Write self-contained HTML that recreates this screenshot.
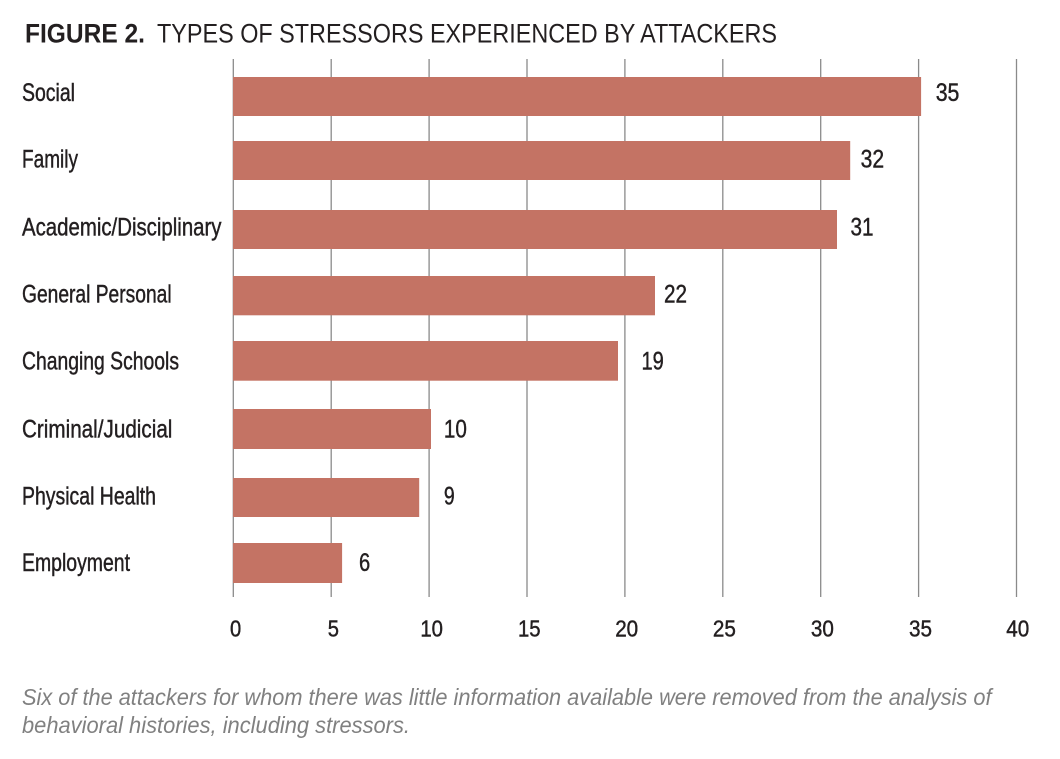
<!DOCTYPE html>
<html>
<head>
<meta charset="utf-8">
<style>
  html, body { margin:0; padding:0; background:#ffffff; }
  svg { display:block; }
  text { font-family: "Liberation Sans Narrow", "Liberation Sans", sans-serif; fill:#231f20; }
  .lbl { stroke:#231f20; stroke-width:0.45; }
</style>
</head>
<body>
<svg width="1060" height="759" viewBox="0 0 1060 759" xmlns="http://www.w3.org/2000/svg">
  <rect x="0" y="0" width="1060" height="759" fill="#ffffff"/>

  <!-- Title -->
  <text x="25" y="42.7" font-size="26.5" font-weight="bold" textLength="120" lengthAdjust="spacingAndGlyphs">FIGURE 2.</text>
  <text x="157" y="42.7" font-size="26.5" textLength="620" lengthAdjust="spacingAndGlyphs">TYPES OF STRESSORS EXPERIENCED BY ATTACKERS</text>

  <!-- Gridlines -->
  <g stroke="#8a8a8a" stroke-width="1.3">
    <line x1="233.3" y1="59" x2="233.3" y2="597"/>
    <line x1="331.2" y1="59" x2="331.2" y2="597"/>
    <line x1="429.1" y1="59" x2="429.1" y2="597"/>
    <line x1="527" y1="59" x2="527" y2="597"/>
    <line x1="624.9" y1="59" x2="624.9" y2="597"/>
    <line x1="722.8" y1="59" x2="722.8" y2="597"/>
    <line x1="820.7" y1="59" x2="820.7" y2="597"/>
    <line x1="918.6" y1="59" x2="918.6" y2="597"/>
    <line x1="1016.5" y1="59" x2="1016.5" y2="597"/>
  </g>

  <!-- Bars -->
  <g fill="#c47364">
    <rect x="233" y="77" width="688.1" height="39"/>
    <rect x="233" y="141" width="617.2" height="39"/>
    <rect x="233" y="210" width="604" height="39"/>
    <rect x="233" y="276" width="422" height="39.3"/>
    <rect x="233" y="341" width="385" height="39.7"/>
    <rect x="233" y="409" width="198" height="40"/>
    <rect x="233" y="478" width="186.2" height="39"/>
    <rect x="233" y="543" width="109.1" height="40"/>
  </g>

  <!-- Category labels -->
  <g font-size="25" class="lbl">
    <text class="lbl" x="22" y="101" textLength="53" lengthAdjust="spacingAndGlyphs">Social</text>
    <text class="lbl" x="22" y="167.7" textLength="56" lengthAdjust="spacingAndGlyphs">Family</text>
    <text class="lbl" x="22" y="235.7" textLength="199.5" lengthAdjust="spacingAndGlyphs">Academic/Disciplinary</text>
    <text class="lbl" x="22" y="302.7" textLength="149.6" lengthAdjust="spacingAndGlyphs">General Personal</text>
    <text class="lbl" x="22" y="369.3" textLength="157" lengthAdjust="spacingAndGlyphs">Changing Schools</text>
    <text class="lbl" x="22" y="437.7" textLength="150.4" lengthAdjust="spacingAndGlyphs">Criminal/Judicial</text>
    <text class="lbl" x="22" y="504.3" textLength="134" lengthAdjust="spacingAndGlyphs">Physical Health</text>
    <text class="lbl" x="22" y="571" textLength="108" lengthAdjust="spacingAndGlyphs">Employment</text>
  </g>

  <!-- Value labels -->
  <g font-size="25">
    <text class="lbl" x="935.7" y="101" textLength="23.7" lengthAdjust="spacingAndGlyphs">35</text>
    <text class="lbl" x="860.6" y="167.7" textLength="23.5" lengthAdjust="spacingAndGlyphs">32</text>
    <text class="lbl" x="850.5" y="235.7" textLength="23" lengthAdjust="spacingAndGlyphs">31</text>
    <text class="lbl" x="664" y="302.7" textLength="23" lengthAdjust="spacingAndGlyphs">22</text>
    <text class="lbl" x="641.5" y="369.3" textLength="22.3" lengthAdjust="spacingAndGlyphs">19</text>
    <text class="lbl" x="443.9" y="437.7" textLength="23" lengthAdjust="spacingAndGlyphs">10</text>
    <text class="lbl" x="443.9" y="504.3" textLength="10.8" lengthAdjust="spacingAndGlyphs">9</text>
    <text class="lbl" x="359" y="571" textLength="11.2" lengthAdjust="spacingAndGlyphs">6</text>
  </g>

  <!-- X axis tick labels -->
  <g font-size="23" text-anchor="middle">
    <text class="lbl" x="235.6" y="636.7" textLength="11.2" lengthAdjust="spacingAndGlyphs">0</text>
    <text class="lbl" x="333.3" y="636.7" textLength="11.2" lengthAdjust="spacingAndGlyphs">5</text>
    <text class="lbl" x="431.7" y="636.7" textLength="22.6" lengthAdjust="spacingAndGlyphs">10</text>
    <text class="lbl" x="529.3" y="636.7" textLength="22.6" lengthAdjust="spacingAndGlyphs">15</text>
    <text class="lbl" x="626.7" y="636.7" textLength="23" lengthAdjust="spacingAndGlyphs">20</text>
    <text class="lbl" x="724.4" y="636.7" textLength="23" lengthAdjust="spacingAndGlyphs">25</text>
    <text class="lbl" x="822.4" y="636.7" textLength="23" lengthAdjust="spacingAndGlyphs">30</text>
    <text class="lbl" x="920.5" y="636.7" textLength="23" lengthAdjust="spacingAndGlyphs">35</text>
    <text class="lbl" x="1017.8" y="636.7" textLength="23" lengthAdjust="spacingAndGlyphs">40</text>
  </g>

  <!-- Caption -->
  <g font-size="23" font-style="italic">
    <text x="22" y="705" style="fill:#808080" textLength="969.5" lengthAdjust="spacingAndGlyphs">Six of the attackers for whom there was little information available were removed from the analysis of</text>
    <text x="22" y="733" style="fill:#808080" textLength="388" lengthAdjust="spacingAndGlyphs">behavioral histories, including stressors.</text>
  </g>
</svg>
</body>
</html>
